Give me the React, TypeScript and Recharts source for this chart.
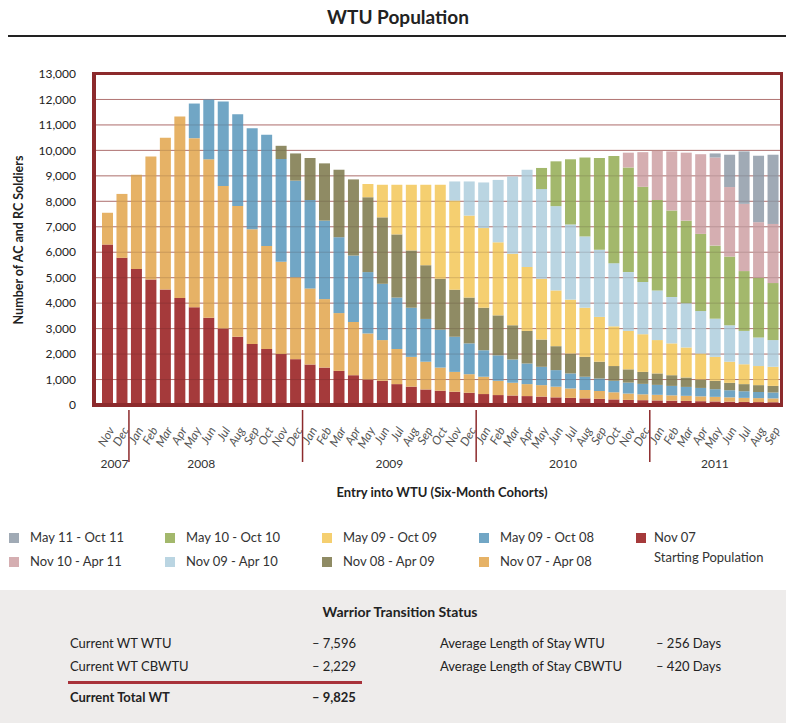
import { BarChart, Bar, XAxis, YAxis, CartesianGrid, ReferenceLine } from "recharts";

const FONT = "Lato, 'Liberation Sans', sans-serif";

// categories: Nov 2007 .. Sep 2011
const MONTH_ABBR = ["Jan", "Feb", "Mar", "Apr", "May", "Jun", "Jul", "Aug", "Sep", "Oct", "Nov", "Dec"];
const CATEGORIES = [
  ...["Nov", "Dec"].map((m) => `${m} 2007`),
  ...MONTH_ABBR.map((m) => `${m} 2008`),
  ...MONTH_ABBR.map((m) => `${m} 2009`),
  ...MONTH_ABBR.map((m) => `${m} 2010`),
  ...MONTH_ABBR.slice(0, 9).map((m) => `${m} 2011`),
];

// where each year label sits (month it hangs under, shift in bands)
const YEAR_LABELS = [
  { year: "2007", month: "Nov", shift: 0.5 },
  { year: "2008", month: "May", shift: 0.5 },
  { year: "2009", month: "Jun", shift: 0.5 },
  { year: "2010", month: "Jun", shift: 0.5 },
  { year: "2011", month: "May", shift: 0 },
];

const Y_TICKS = [0, 1000, 2000, 3000, 4000, 5000, 6000, 7000, 8000, 9000, 10000, 11000, 12000, 13000];

// cohort values (soldiers still in WTU)
const NOV07_START = [
  6300, 5780, 5340, 4930, 4540, 4200, 3840, 3430, 3000, 2680, 2400, 2200, 2000, 1800, 1590, 1470,
  1340, 1170, 1000, 950, 820, 720, 610, 560, 520, 480, 430, 390, 370, 350, 330, 300, 280, 260, 240,
  220, 200, 190, 180, 170, 160, 150, 140, 130, 120, 115, 110,
];
const NOV07_APR08 = [
  1250, 2510, 3700, 4830, 5960, 7130, 6640, 6220, 5600, 5140, 4500, 4040, 3630, 3220, 2990, 2690,
  2270, 2090, 1810, 1600, 1380, 1170, 1090, 910, 780, 730, 680, 560, 500, 470, 450, 420, 370, 330,
  310, 280, 250, 230, 220, 210, 200, 190, 180, 170, 160, 155, 150,
];
const MAY08_OCT08 = [
  0, 0, 0, 0, 0, 0,
  1360, 2350, 3320, 3600, 3970, 4370, 4030, 3790, 3470, 3080, 2980, 2610, 2410, 2210, 2020, 1930,
  1680, 1490, 1380, 1210, 1040, 1000, 920, 810, 720, 650, 590, 520, 490, 450, 430, 410, 390, 370,
  350, 330, 300, 280, 260, 240, 230,
];
const NOV08_APR09 = [
  0, 0, 0, 0, 0, 0, 0, 0, 0, 0, 0, 0,
  520, 1070, 1650, 2250, 2650, 2990, 2940, 2610, 2480, 2250, 2110, 2000, 1850, 1800, 1670, 1570,
  1340, 1280, 1070, 940, 780, 780, 660, 580, 520, 470, 450, 420, 370, 330, 330, 290, 280, 270, 260,
];
const MAY09_OCT09 = [
  0, 0, 0, 0, 0, 0, 0, 0, 0, 0, 0, 0, 0, 0, 0, 0, 0, 0,
  520, 1280, 1950, 2580, 3160, 3690, 3500, 3220, 3130, 2870, 2810, 2510, 2390, 2190, 2120, 1930,
  1760, 1560, 1510, 1480, 1310, 1250, 1180, 1020, 940, 830, 780, 750, 750,
];
const NOV09_APR10 = [
  0, 0, 0, 0, 0, 0, 0, 0, 0, 0, 0, 0, 0, 0, 0, 0, 0, 0, 0, 0, 0, 0, 0, 0,
  750, 1340, 1790, 2450, 3030, 3820, 3520, 3310, 2950, 2800, 2640, 2480, 2310, 2050, 1950, 1820,
  1740, 1670, 1500, 1430, 1310, 1120, 1050,
];
const MAY10_OCT10 = [
  0, 0, 0, 0, 0, 0, 0, 0, 0, 0, 0, 0, 0, 0, 0, 0, 0, 0, 0, 0, 0, 0, 0, 0, 0, 0, 0, 0, 0, 0,
  830, 1760, 2560, 3100, 3600, 4210, 4110, 3740, 3550, 3400, 3240, 3030, 2870, 2700, 2350, 2350, 2240,
];
const NOV10_APR11 = [
  0, 0, 0, 0, 0, 0, 0, 0, 0, 0, 0, 0, 0, 0, 0, 0, 0, 0, 0, 0, 0, 0, 0, 0, 0, 0, 0, 0, 0, 0,
  0, 0, 0, 0, 0, 0,
  580, 1360, 1930, 2320, 2670, 3130, 3460, 2730, 2640, 2180, 2320,
];
const MAY11_OCT11 = [
  0, 0, 0, 0, 0, 0, 0, 0, 0, 0, 0, 0, 0, 0, 0, 0, 0, 0, 0, 0, 0, 0, 0, 0, 0, 0, 0, 0, 0, 0,
  0, 0, 0, 0, 0, 0, 0, 0, 0, 0, 0, 0,
  160, 1270, 2060, 2610, 2720,
];

// bottom to top of the stack
const SERIES = [
  { key: "nov07", name: "Nov 07", color: "#a53a3b", values: NOV07_START },
  { key: "nov07apr08", name: "Nov 07 - Apr 08", color: "#e6b266", values: NOV07_APR08 },
  { key: "may08oct08", name: "May 09 - Oct 08", color: "#71a6c5", values: MAY08_OCT08 },
  { key: "nov08apr09", name: "Nov 08 -  Apr 09", color: "#8f8b64", values: NOV08_APR09 },
  { key: "may09oct09", name: "May 09 - Oct 09", color: "#f5cf70", values: MAY09_OCT09 },
  { key: "nov09apr10", name: "Nov 09 - Apr 10", color: "#bad5e2", values: NOV09_APR10 },
  { key: "may10oct10", name: "May 10 - Oct 10", color: "#a3b86c", values: MAY10_OCT10 },
  { key: "nov10apr11", name: "Nov 10 - Apr 11", color: "#d5aeb1", values: NOV10_APR11 },
  { key: "may11oct11", name: "May 11 - Oct 11", color: "#a0aab5", values: MAY11_OCT11 },
];

const data = CATEGORIES.map((label, i) => {
  const row: Record<string, string | number> = { label };
  SERIES.forEach((s) => (row[s.key] = s.values[i]));
  return row;
});

// legend layout: two rows, same order as the original
const LEGEND_ROWS = [
  ["may11oct11", "may10oct10", "may09oct09", "may08oct08", "nov07"],
  ["nov10apr11", "nov09apr10", "nov08apr09", "nov07apr08"],
];
const LEGEND_X = [9, 165, 322, 479, 636];

const PLOT_LEFT = 94;
const PLOT_RIGHT = 781;
const PAD_L = 6;
const PAD_R = 1;
const BAND = (PLOT_RIGHT - PLOT_LEFT - PAD_L - PAD_R) / CATEGORIES.length;

function MonthTick(props: any) {
  const { x, y, payload } = props;
  const [m, yr] = String(payload.value).split(" ");
  const yl = YEAR_LABELS.find((l) => l.year === yr && l.month === m);
  const ty = y + 15;
  return (
    <g>
      <text
        x={x + 4}
        y={ty}
        dy="0.35em"
        transform={`rotate(-60 ${x + 4} ${ty})`}
        textAnchor="end"
        fontSize={12}
        fontStyle="italic"
        fill="#555"
        fontFamily={FONT}
      >
        {m}
      </text>
      {m === "Jan" && (
        <line x1={x - BAND / 2} x2={x - BAND / 2} y1={y - 3} y2={y + 49} stroke="#8c2a2c" strokeWidth={1.5} />
      )}
      {yl && (
        <text x={x + yl.shift * BAND} y={y + 55} textAnchor="middle" fontSize={12} fill="#333" fontFamily={FONT}>
          {yr}
        </text>
      )}
    </g>
  );
}

const abs = (left: number, top: number, extra: React.CSSProperties = {}): React.CSSProperties => ({
  position: "absolute",
  left,
  top,
  whiteSpace: "nowrap",
  ...extra,
});

export default function App() {
  const byKey = Object.fromEntries(SERIES.map((s) => [s.key, s]));
  return (
    <div style={{ position: "absolute", left: 0, top: 0, width: 786, height: 723, fontFamily: FONT, color: "#222", background: "#fff" }}>
      {/* title */}
      <div style={abs(0, 5, { width: 796, textAlign: "center", fontSize: 19, fontWeight: 700 })}>WTU Population</div>
      <div style={abs(8, 35, { width: 778, height: 2, background: "#222" })} />

      <div style={abs(0, 0)}>
        <BarChart
          width={786}
          height={723}
          data={data}
          margin={{ top: 74, right: 786 - PLOT_RIGHT, bottom: 228, left: 0 }}
          barSize={11}
        >
          <CartesianGrid horizontal vertical={false} stroke="#c98886" strokeWidth={1} />
          <XAxis
            dataKey="label"
            interval={0}
            height={90}
            padding={{ left: PAD_L, right: PAD_R }}
            axisLine={false}
            tickLine={false}
            tickSize={0}
            tickMargin={8}
            tick={<MonthTick />}
          />
          <YAxis
            width={PLOT_LEFT}
            domain={[0, 13000]}
            ticks={Y_TICKS}
            interval={0}
            axisLine={false}
            tickLine={false}
            tickSize={0}
            tickMargin={18}
            tick={{ fontSize: 12, fill: "#222", fontFamily: FONT }}
            tickFormatter={(v: number) => v.toLocaleString("en-US")}
          />
          {SERIES.map((s) => (
            <Bar key={s.key} dataKey={s.key} name={s.name} stackId="a" fill={s.color} isAnimationActive={false} />
          ))}
          {Y_TICKS.slice(1, -1).map((v) => (
            <ReferenceLine key={v} y={v} stroke="#3a1a1a" strokeOpacity={0.16} />
          ))}
        </BarChart>
      </div>

      {/* plot frame */}
      <div style={abs(92, 72, { width: 691, height: 335, border: "3px solid #8c2a2c", borderBottomWidth: 4, borderLeftWidth: 4, boxSizing: "border-box" })} />

      {/* axis titles */}
      <div style={abs(18, 240, { transform: "translate(-50%, -50%) rotate(-90deg)", fontSize: 12.5, fontWeight: 700 })}>
        Number of AC and RC Soldiers
      </div>
      <div style={abs(442, 484, { transform: "translateX(-50%)", fontSize: 13, fontWeight: 700 })}>
        Entry into WTU (Six-Month Cohorts)
      </div>

      {/* legend */}
      {LEGEND_ROWS.map((row, r) =>
        row.map((k, c) => {
          const s = byKey[k];
          const top = 529 + r * 24;
          return (
            <div key={k}>
              <div style={abs(LEGEND_X[c], top + 4, { width: 10, height: 10, background: s.color })} />
              <div style={abs(LEGEND_X[c] + (c === 4 ? 18 : 21), top, { fontSize: 13, color: "#333" })}>
                {s.name}
                {k === "nov07" && <div style={{ marginTop: 4 }}>Starting Population</div>}
              </div>
            </div>
          );
        })
      )}

      {/* status panel */}
      <div style={abs(0, 590, { width: 786, height: 133, background: "#eeeceb" })} />
      <div style={abs(0, 603, { width: 800, textAlign: "center", fontSize: 14, fontWeight: 700 })}>Warrior Transition Status</div>
      <div style={abs(70, 635, { fontSize: 13 })}>Current WT WTU</div>
      <div style={abs(312, 635, { fontSize: 13 })}>– 7,596</div>
      <div style={abs(70, 658, { fontSize: 13 })}>Current WT CBWTU</div>
      <div style={abs(312, 658, { fontSize: 13 })}>– 2,229</div>
      <div style={abs(68, 681, { width: 294, height: 3, background: "#a8323a" })} />
      <div style={abs(70, 689, { fontSize: 13, fontWeight: 700 })}>Current Total WT</div>
      <div style={abs(312, 689, { fontSize: 13, fontWeight: 700 })}>– 9,825</div>
      <div style={abs(440, 635, { fontSize: 13 })}>Average Length of Stay WTU</div>
      <div style={abs(656, 635, { fontSize: 13 })}>– 256 Days</div>
      <div style={abs(440, 658, { fontSize: 13 })}>Average Length of Stay CBWTU</div>
      <div style={abs(656, 658, { fontSize: 13 })}>– 420 Days</div>
    </div>
  );
}
